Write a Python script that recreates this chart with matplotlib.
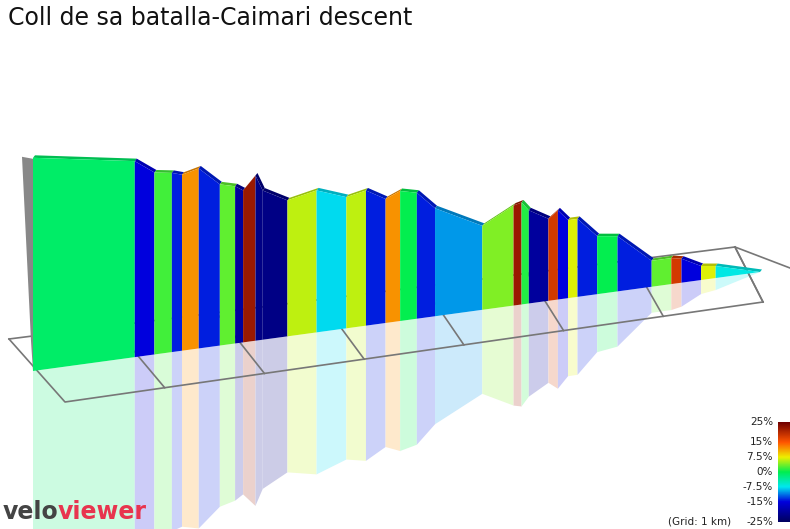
import matplotlib
matplotlib.use("Agg")
import matplotlib.pyplot as plt
import numpy as np
from matplotlib.colors import LinearSegmentedColormap, to_rgb
from matplotlib.patches import Polygon

title = "Coll de sa batalla-Caimari descent"
dist_km = [0, 1.40, 1.67, 1.91, 2.05, 2.28, 2.57, 2.78, 2.89, 3.06, 3.16, 3.50, 3.90, 4.31, 4.58, 4.85,
           5.05, 5.28, 5.53, 6.18, 6.61, 6.72, 6.82, 7.09, 7.22, 7.36, 7.49, 7.76, 8.04, 8.51, 8.78,
           8.92, 9.19, 9.39, 10.0]
elev_m = [683, 640, 605, 598, 590, 600, 553, 543, 530, 563, 523, 490, 505, 478, 488, 460,
          475, 465, 420, 360, 400, 405, 383, 355, 373, 345, 345, 295, 288, 215, 215,
          210, 185, 180, 150]
grade_pct = [-1, -15, 2, -14, 12, -14, 3, -20, 22, -22, -22, 6, -8, 6, -14, 12,
             0, -14, -10, 4, 22, 1, -20, 18, -15, 7, -14, 0, -14, 3, 18,
             -15, 7, -7]
cbar_ticks = [25, 15, 7.5, 0, -7.5, -15, -25]
cbar_labels = ["25%", "15%", "7.5%", "0%", "-7.5%", "-15%", "-25%"]

cmap = LinearSegmentedColormap.from_list("grad", [
    (0.0, "#000060"), (0.2, "#0000dd"), (0.35, "#00e8f0"), (0.5, "#00ee50"),
    (0.65, "#eef000"), (0.8, "#ff5500"), (1.0, "#700000")])
def col(g):
    return cmap((g + 25) / 50)

W, H = 790, 529
fig = plt.figure(figsize=(W / 100, H / 100), dpi=100)
ax = fig.add_axes([0, 0, 1, 1])
ax.set_xlim(0, W); ax.set_ylim(H, 0); ax.axis("off")

def sx(d): return 33 + d * 72.7
def sb(d): return 371 - d * 9.9
def st(d, e): return sb(d) - (e - 150) / 2.5

gc = "#777777"
ax.plot([9, 735, 790], [339, 247, 268], color=gc, lw=1.2, zorder=3)
ax.plot([9, 65, 763], [339, 402, 302], color=gc, lw=1.2, zorder=3)
ax.plot([735, 763], [247, 302], color=gc, lw=1.2, zorder=3)
for k in range(1, 8):
    t = k / 7.0
    bx, by = 9 + t * 726, 339 - t * 92
    fx, fy = 65 + t * 698, 402 - t * 100
    ax.plot([bx, fx], [by, fy], color=gc, lw=1.2, zorder=3)

def mix(c, a, base=1.0):
    r = np.array(to_rgb(c))
    return tuple(base - a * (base - r))

for i, g in enumerate(grade_pct):
    d0, d1 = dist_km[i], dist_km[i + 1]
    e0, e1 = elev_m[i], elev_m[i + 1]
    c = col(g)
    x0, x1 = sx(d0), sx(d1)
    b0, b1 = sb(d0), sb(d1)
    t0, t1 = st(d0, e0), st(d1, e1)
    ax.add_patch(Polygon([(x0, b0), (x1, b1), (x1, 2 * b1 - t1), (x0, 2 * b0 - t0)],
                         closed=True, fc=mix(c, 0.2), ec="none", zorder=2))
    top = tuple(0.8 * np.array(to_rgb(c)))
    ax.add_patch(Polygon([(x0, t0), (x1, t1), (x1 + 2, t1 - 2.5), (x0 + 2, t0 - 2.5)],
                         closed=True, fc=top, ec="none", zorder=4))
    ax.add_patch(Polygon([(x0, b0), (x1, b1), (x1, t1), (x0, t0)],
                         closed=True, fc=c, ec="none", zorder=5))

ax.add_patch(Polygon([(sx(0) - 11, st(0, elev_m[0]) - 1), (sx(0), st(0, elev_m[0]) + 1),
                      (sx(0), sb(0)), (sx(0) - 2, sb(0) - 30)],
                     closed=True, fc="#888888", ec="none", zorder=6))

ax.text(8, 18, title, fontsize=17, ha="left", va="center", color="#111111")

cax = fig.add_axes([778 / W, 1 - 522 / H, 12 / W, 100 / H])
grad = np.linspace(25, -25, 200).reshape(-1, 1)
cax.imshow(grad, cmap=cmap, vmin=-25, vmax=25, aspect="auto", extent=[0, 1, -25, 25])
cax.set_xticks([]); cax.set_yticks([])
for s in cax.spines.values(): s.set_visible(False)
for v, lab in zip(cbar_ticks, cbar_labels):
    y = 422 + (25 - v) / 50 * 100
    ax.text(773, y, lab, fontsize=7.5, ha="right", va="center", color="#222222")
ax.text(700, 521, "(Grid: 1 km)", fontsize=7.5, ha="center", va="center", color="#222222")

t1 = ax.text(3, 512, "velo", fontsize=17, fontweight="bold", color="#444444", ha="left", va="center")
fig.canvas.draw()
bb = t1.get_window_extent()
ax.annotate("viewer", xy=(1, 0.5), xycoords=t1, xytext=(-1, 0), textcoords="offset points",
            fontsize=17, fontweight="bold", color="#e8344e", ha="left", va="center")

fig.savefig("out.png", dpi=100)
